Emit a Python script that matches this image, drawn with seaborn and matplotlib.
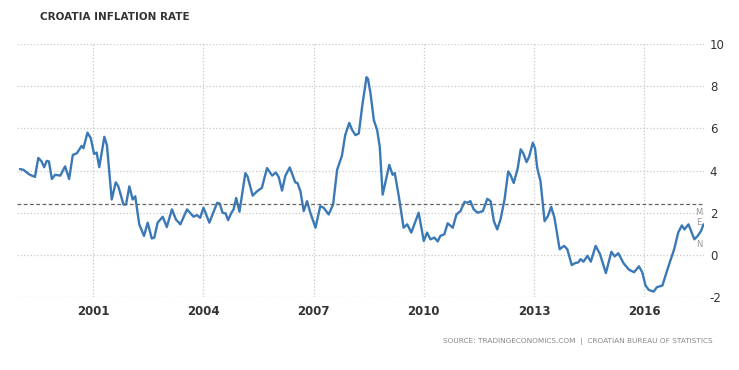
import pandas as pd
import seaborn as sns
import matplotlib.pyplot as plt
import matplotlib.ticker as ticker

# readings: decimal year, inflation rate (%)
years = [1999.00, 1999.09, 1999.27, 1999.41, 1999.50, 1999.59, 1999.66, 1999.73, 1999.79, 1999.87,
         1999.96, 2000.10, 2000.23, 2000.34, 2000.44, 2000.55, 2000.68, 2000.73, 2000.84, 2000.93,
         2001.02, 2001.09, 2001.16, 2001.30, 2001.37, 2001.50, 2001.61, 2001.68, 2001.82, 2001.89,
         2001.98, 2002.07, 2002.14, 2002.25, 2002.38, 2002.48, 2002.59, 2002.66, 2002.75, 2002.89,
         2003.00, 2003.14, 2003.25, 2003.37, 2003.55, 2003.73, 2003.82, 2003.91, 2004.00, 2004.16,
         2004.37, 2004.44, 2004.52, 2004.60, 2004.67, 2004.76, 2004.82, 2004.89, 2004.98, 2005.14,
         2005.20, 2005.34, 2005.46, 2005.59, 2005.73, 2005.87, 2005.97, 2006.05, 2006.14, 2006.23,
         2006.35, 2006.50, 2006.56, 2006.64, 2006.73, 2006.82, 2006.91, 2007.05, 2007.18, 2007.27,
         2007.41, 2007.53, 2007.64, 2007.77, 2007.86, 2007.97, 2008.05, 2008.14, 2008.23, 2008.32,
         2008.44, 2008.48, 2008.55, 2008.64, 2008.73, 2008.80, 2008.88, 2008.97, 2009.06, 2009.15,
         2009.21, 2009.32, 2009.45, 2009.55, 2009.66, 2009.86, 2010.00, 2010.09, 2010.18, 2010.29,
         2010.38, 2010.45, 2010.56, 2010.65, 2010.79, 2010.89, 2011.00, 2011.11, 2011.18, 2011.27,
         2011.36, 2011.47, 2011.61, 2011.73, 2011.82, 2011.91, 2012.00, 2012.09, 2012.20, 2012.30,
         2012.36, 2012.45, 2012.56, 2012.64, 2012.71, 2012.80, 2012.87, 2012.97, 2013.03, 2013.09,
         2013.18, 2013.29, 2013.38, 2013.47, 2013.56, 2013.70, 2013.82, 2013.91, 2014.03, 2014.12,
         2014.21, 2014.27, 2014.35, 2014.46, 2014.55, 2014.68, 2014.80, 2014.96, 2015.11, 2015.20,
         2015.30, 2015.44, 2015.59, 2015.73, 2015.86, 2015.95, 2016.04, 2016.13, 2016.26, 2016.35,
         2016.50, 2016.64, 2016.82, 2016.93, 2017.03, 2017.10, 2017.21, 2017.37, 2017.46, 2017.55,
         2017.62]

rate = [4.07, 4.04, 3.80, 3.70, 4.60, 4.43, 4.16, 4.46, 4.43, 3.60,
        3.80, 3.76, 4.20, 3.60, 4.74, 4.82, 5.17, 5.06, 5.80, 5.53,
        4.79, 4.85, 4.16, 5.60, 5.20, 2.63, 3.44, 3.25, 2.39, 2.39,
        3.25, 2.63, 2.78, 1.45, 0.90, 1.53, 0.78, 0.82, 1.53, 1.81,
        1.32, 2.16, 1.68, 1.45, 2.16, 1.81, 1.89, 1.76, 2.24, 1.53,
        2.47, 2.44, 2.00, 1.97, 1.65, 2.00, 2.16, 2.70, 2.05, 3.88,
        3.72, 2.81, 3.02, 3.18, 4.12, 3.76, 3.91, 3.69, 3.05, 3.76,
        4.15, 3.44, 3.41, 3.02, 2.08, 2.55, 2.00, 1.29, 2.31, 2.24,
        1.92, 2.39, 4.04, 4.70, 5.68, 6.26, 5.92, 5.68, 5.76, 7.02,
        8.43, 8.35, 7.65, 6.39, 5.92, 5.13, 2.86, 3.57, 4.27, 3.80,
        3.88, 2.78, 1.29, 1.45, 1.06, 2.00, 0.66, 1.06, 0.74, 0.82,
        0.64, 0.90, 0.98, 1.50, 1.29, 1.92, 2.08, 2.52, 2.47, 2.55,
        2.16, 2.00, 2.08, 2.66, 2.55, 1.60, 1.21, 1.68, 2.63, 3.96,
        3.80, 3.41, 4.12, 5.01, 4.82, 4.40, 4.66, 5.32, 5.06, 4.12,
        3.49, 1.60, 1.84, 2.28, 1.76, 0.27, 0.43, 0.27, -0.48, -0.39,
        -0.35, -0.20, -0.32, -0.04, -0.32, 0.43, 0.04, -0.86, 0.15, -0.07,
        0.08, -0.39, -0.70, -0.82, -0.54, -0.82, -1.45, -1.66, -1.74, -1.53,
        -1.45, -0.67, 0.27, 1.06, 1.40, 1.21, 1.45, 0.74, 0.90, 1.13,
        1.45]

average = 2.4
end_labels = ['M', 'E', 'N']
end_label_y = [2.03, 1.54, 0.51]

df = pd.DataFrame({'year': years, 'rate': rate})

sns.set_style('white')
plt.rcParams['font.family'] = ['DejaVu Sans']
plt.rcParams['axes.unicode_minus'] = False

fig = plt.figure(figsize=(7.39, 3.70), dpi=100)
ax = fig.add_axes([0.023, 0.197, 0.930, 0.684])

sns.lineplot(data=df, x='year', y='rate', ax=ax, color='#3b79b6', linewidth=1.7)
ax.axhline(average, color='#666666', linestyle=(0, (3, 2)), linewidth=0.9)

ax.set_xlim(1998.92, 2017.64)
ax.set_ylim(-2, 10)
ax.xaxis.set_major_locator(ticker.MultipleLocator(3))
ax.xaxis.set_major_formatter(ticker.FormatStrFormatter('%d'))
ax.yaxis.set_major_locator(ticker.MultipleLocator(2))
ax.yaxis.tick_right()
ax.grid(True, linestyle=':', color='#c8c8c8', linewidth=0.9)
for s in ax.spines.values():
    s.set_visible(False)
ax.tick_params(axis='both', length=0, labelsize=8.5, colors='#333333')
ax.tick_params(axis='x', pad=6)
ax.tick_params(axis='y', pad=4)
for lbl in ax.get_xticklabels():
    lbl.set_fontweight('bold')
ax.set_xlabel('')
ax.set_ylabel('')

for txt, yv in zip(end_labels, end_label_y):
    ax.text(2017.50, yv, txt, fontsize=6, color='#999999', ha='center', va='center')

fig.text(0.054, 0.953, 'CROATIA INFLATION RATE', fontsize=7.5, color='#333333',
         fontweight='bold', ha='left', va='center')
fig.text(0.964, 0.078, 'SOURCE: TRADINGECONOMICS.COM  |  CROATIAN BUREAU OF STATISTICS',
         fontsize=5.3, color='#888888', ha='right', va='center')

fig.savefig('out.png', dpi=100)
